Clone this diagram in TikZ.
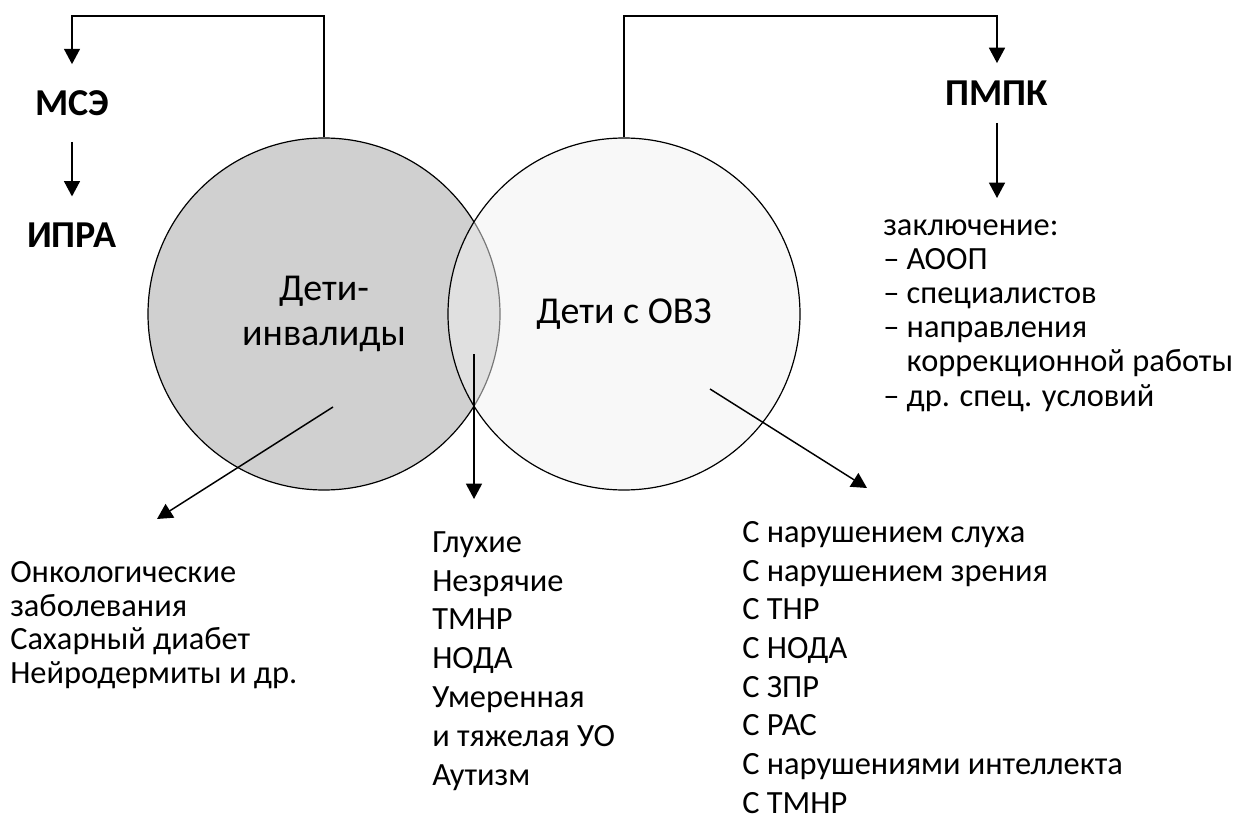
\documentclass[tikz,border=0pt]{standalone}
\usepackage{fontspec}
\setmainfont{Carlito}
\usepackage{xcolor}
\usetikzlibrary{arrows.meta,positioning}

\definecolor{invgray}{RGB}{208,208,208}
\definecolor{ovzgray}{RGB}{241,241,241}

\tikzset{
  ring/.style={circle,draw,line width=0.9pt,minimum size=264pt,inner sep=0pt,align=center,
    font=\fontsize{28.5}{33.75}\selectfont},
  boldlabel/.style={font=\fontsize{28.5}{32}\selectfont\bfseries,inner xsep=0pt},
  % lists are placed by the baseline of their last line
  listtext/.style={align=left,anchor=base west,inner sep=0pt},
  arr/.style={-{Triangle[length=11.5pt,width=12pt]},line width=1.1pt},
  link/.style={line width=1.1pt},
}

\begin{document}
\begin{tikzpicture}[x=0.75pt,y=0.75pt,yscale=-1,xscale=1]
\path[use as bounding box] (0,0) rectangle (1236,820);

%Circles
\node[ring,fill=invgray] (inv) at (324,314) {Дети-\\инвалиды};
\node[ring,fill=ovzgray,fill opacity=0.5,text opacity=1] (ovz) at (624,314) {Дети с ОВЗ};

%Bold labels
\node[boldlabel,inner ysep=19.5pt] (mse) at (72,103) {МСЭ};
\node[boldlabel,inner ysep=19.5pt] (ipra) at (72,235) {ИПРА};
\node[boldlabel,inner ysep=13pt] (pmpk) at (997,93) {ПМПК};

%Lists
\node[listtext,font=\fontsize{24.3}{25.6}\selectfont] (concl) at (883,406)
  {заключение:\\– АООП\\– специалистов\\– направления\\\phantom{–\ }коррекционной работы\\– др. спец. условий};
\node[listtext,font=\fontsize{24.3}{25.1}\selectfont] (onco) at (10,683)
  {Онкологические\\заболевания\\Сахарный диабет\\Нейродермиты и др.};
\node[listtext,font=\fontsize{24.3}{29.1}\selectfont] (deaf) at (432,785)
  {Глухие\\Незрячие\\ТМНР\\НОДА\\Умеренная\\и тяжелая УО\\Аутизм};
\node[listtext,font=\fontsize{24.3}{29}\selectfont] (hear) at (742,813)
  {С нарушением слуха\\С нарушением зрения\\С ТНР\\С НОДА\\С ЗПР\\С РАС\\С нарушениями интеллекта\\С ТМНР};

%Free ends of the arrows
\coordinate (invout) at (333,407);
\coordinate (ontip) at (157,519);
\coordinate (midout) at (474,354);
\coordinate (midtip) at (474,499);
\coordinate (ovzout) at (710,389);
\coordinate (ovztip) at (867,488);
\coordinate (pmpktip) at (997,198);

%Connectors
\draw[link,arr] (inv.north) -- (inv.north |- 0,16) -| (mse.north);
\draw[link,arr] (mse.south) -- (ipra.north);
\draw[link,arr] (ovz.north) -- (ovz.north |- 0,16) -| (pmpk.north);
\draw[link,arr] (pmpk.south) -- (pmpktip);
\draw[link,arr] (invout) -- (ontip);
\draw[link,arr] (midout) -- (midtip);
\draw[link,arr] (ovzout) -- (ovztip);

\end{tikzpicture}
\end{document}
